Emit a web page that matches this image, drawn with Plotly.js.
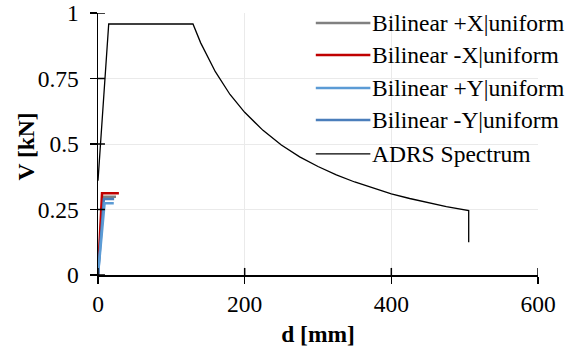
<!DOCTYPE html>
<html>
<head>
<meta charset="utf-8">
<script src="https://cdn.plot.ly/plotly-3.0.1.min.js"></script>
<style>html,body{margin:0;padding:0;background:#fff;}#chart{width:571px;height:349px;}</style>
</head>
<body>
<div id="chart"></div>
<script>
// ---- data ----
const seriesNames = ["Bilinear +X|uniform", "Bilinear -X|uniform", "Bilinear +Y|uniform", "Bilinear -Y|uniform", "ADRS Spectrum"];
const bilinPX_d = [0, 6.5, 24.5];
const bilinPX_V = [0, 0.299, 0.299];
const bilinMX_d = [0, 5.5, 28.5];
const bilinMX_V = [0, 0.312, 0.312];
const bilinPY_d = [0, 9, 21.5];
const bilinPY_V = [0, 0.274, 0.274];
const bilinMY_d = [0, 8, 22];
const bilinMY_V = [0, 0.290, 0.290];
const adrs_d = [0, 14.6, 129.5, 140, 160, 180, 200, 225, 250, 275, 300, 325, 350, 375, 400, 425, 450, 475, 505.5, 505.5];
const adrs_V = [0.36, 0.958, 0.958, 0.886, 0.776, 0.689, 0.621, 0.552, 0.496, 0.451, 0.414, 0.382, 0.355, 0.331, 0.310, 0.292, 0.276, 0.261, 0.246, 0.125];
const xTicks = [0, 200, 400, 600];
const yTicks = [0, 0.25, 0.5, 0.75, 1];
const yTickText = ["0", "0.25", "0.5", "0.75", "1"];
const xTitle = "d [mm]";
const yTitle = "V [kN]";

// ---- styles ----
const colors = ["#808080", "#C00000", "#5B9BD5", "#4A7EBB", "#000000"];
const widths = [2.5, 2.5, 2.5, 2.5, 1.3];
const FONT = "Liberation Serif";
const FS = 23.5;
const fnt = () => ({family: FONT, size: FS, color: '#000000'});

const xs = [bilinPX_d, bilinMX_d, bilinPY_d, bilinMY_d, adrs_d];
const ys = [bilinPX_V, bilinMX_V, bilinPY_V, bilinMY_V, adrs_V];
const drawOrder = [4, 0, 1, 3, 2];
const traces = drawOrder.map(i => ({
  x: xs[i], y: ys[i], type: 'scatter', mode: 'lines', name: seriesNames[i],
  line: {color: colors[i], width: widths[i]}, showlegend: false, hoverinfo: 'skip'
}));

// manual legend (paper coordinates)
const legY = [0.962, 0.840, 0.714, 0.592, 0.462];
const shapes = [];
const annotations = [];
seriesNames.forEach((nm, i) => {
  shapes.push({type: 'line', xref: 'paper', yref: 'paper', x0: 0.495, x1: 0.619, y0: legY[i], y1: legY[i],
    line: {color: colors[i], width: widths[i]}});
  annotations.push({xref: 'paper', yref: 'paper', x: 0.619, y: legY[i], xanchor: 'left', yanchor: 'middle',
    text: nm, showarrow: false, font: fnt()});
});
// y-axis title placed as in the reference
annotations.push({xref: 'paper', yref: 'paper', x: -0.164, y: 0.49, xanchor: 'center', yanchor: 'middle',
  textangle: -90, text: '<b>' + yTitle + '</b>', showarrow: false, font: fnt()});
// inner halves of the crossing tick marks
xTicks.forEach(t => shapes.push({type: 'line', xref: 'x', yref: 'y', layer: 'above', x0: t, x1: t, y0: 0, y1: 0.027,
  line: {color: '#000000', width: 1.5}}));
yTicks.forEach(t => shapes.push({type: 'line', xref: 'x', yref: 'y', layer: 'above', x0: 0, x1: 9.5, y0: t, y1: t,
  line: {color: '#000000', width: 1.5}}));

const layout = {
  width: 571, height: 349,
  margin: {l: 98, r: 33, t: 13, b: 74},
  paper_bgcolor: '#ffffff', plot_bgcolor: '#ffffff',
  font: fnt(),
  showlegend: false,
  xaxis: {
    range: [0, 600], tickvals: xTicks, ticktext: xTicks.map(String),
    ticks: 'outside', ticklen: 7, tickwidth: 1.5, tickcolor: '#000000',
    showline: true, linecolor: '#000000', linewidth: 1.5,
    showgrid: true, gridcolor: '#EAEAEA', gridwidth: 1, zeroline: false,
    tickfont: fnt(),
    title: {text: '<b>' + xTitle + '</b>', font: fnt(), standoff: 10}
  },
  yaxis: {
    range: [0, 1], tickvals: yTicks, ticktext: yTickText,
    ticks: 'outside', ticklen: 7, tickwidth: 1.5, tickcolor: '#000000',
    showline: true, linecolor: '#000000', linewidth: 1.5,
    showgrid: true, gridcolor: '#EAEAEA', gridwidth: 1, zeroline: false,
    tickfont: fnt(), ticklabelstandoff: 6
  },
  shapes: shapes,
  annotations: annotations
};

Plotly.newPlot('chart', traces, layout, {staticPlot: true, displayModeBar: false});
</script>
</body>
</html>
